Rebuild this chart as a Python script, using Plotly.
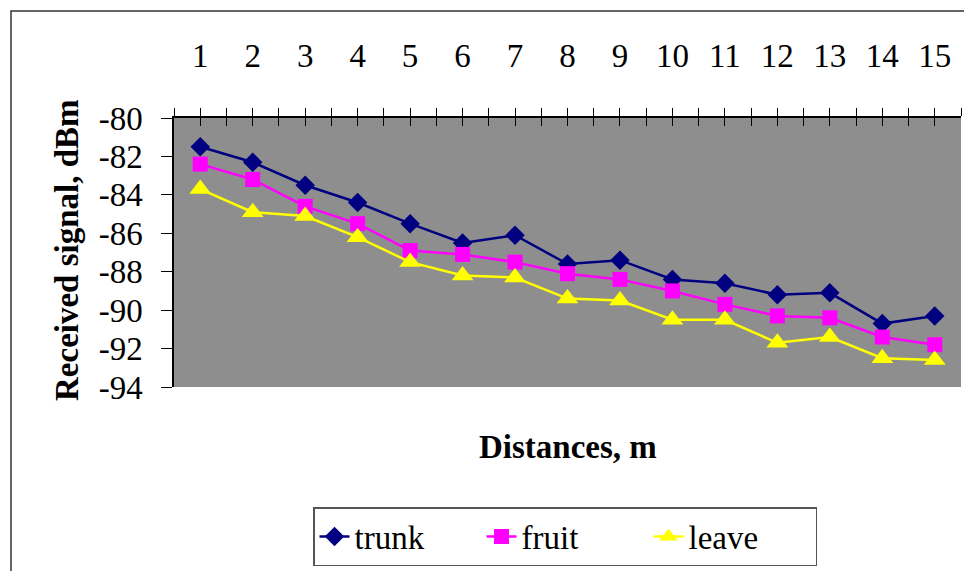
import plotly.graph_objects as go

distances = list(range(1, 16))
trunk = [-81.5, -82.3, -83.5, -84.4, -85.5, -86.5, -86.1, -87.6, -87.4, -88.4, -88.6, -89.2, -89.1, -90.7, -90.3]
fruit = [-82.4, -83.2, -84.6, -85.5, -86.9, -87.1, -87.5, -88.1, -88.4, -89.0, -89.7, -90.3, -90.4, -91.4, -91.8]
leave = [-83.7, -84.9, -85.1, -86.2, -87.5, -88.2, -88.3, -89.4, -89.5, -90.5, -90.5, -91.7, -91.4, -92.5, -92.6]
y_ticks = [-80, -82, -84, -86, -88, -90, -92, -94]

FONT = "Liberation Serif, Times New Roman, serif"
OFF = 8  # page body margin
W, H = 972 - OFF, 571 - OFF
L, R, T, B = 174 - OFF, 11, 118 - OFF, 184
pw, ph = W - L - R, H - T - B

# helpers converting reference screen pixels to paper coordinates
def px_x(p):
    return (p - OFF - L) / pw

def px_y(p):
    return (H - B - (p - OFF)) / ph

fig = go.Figure()
series = [
    ("trunk", trunk, "#000080", "diamond", 15),
    ("fruit", fruit, "#FF00FF", "square", 15),
    ("leave", leave, "#FFFF00", "triangle-up", 19),
]
for name, vals, col, sym, sz in series:
    fig.add_trace(go.Scatter(
        x=distances, y=vals, name=name, mode="lines+markers",
        line=dict(color=col, width=2.5),
        marker=dict(symbol=sym, size=sz, color=col),
    ))

# dummy trace for the overlay axis that carries the inner half of the ticks
fig.add_trace(go.Scatter(x=distances, y=[None] * len(distances), xaxis="x2",
                         showlegend=False, hoverinfo="skip"))

half_vals = []
half_text = []
for d in distances:
    half_vals += [d - 0.5, d]
    half_text += ["", str(d)]
half_vals.append(distances[-1] + 0.5)
half_text.append("")

xr = [distances[0] - 0.5, distances[-1] + 0.5]

fig.update_layout(
    width=W, height=H,
    margin=dict(l=L, r=R, t=T, b=B, autoexpand=False),
    paper_bgcolor="white",
    plot_bgcolor="#8E8E8E",
    font=dict(family=FONT, size=33, color="black"),
    xaxis=dict(
        range=xr, side="top", tickmode="array", tickvals=half_vals, ticktext=half_text,
        ticks="outside", ticklen=8, tickwidth=1, tickcolor="black",
        showline=True, linecolor="black", linewidth=1.5, automargin=False,
        showgrid=False, zeroline=False, ticklabelstandoff=28,
        tickfont=dict(family=FONT, size=33),
    ),
    xaxis2=dict(
        range=xr, overlaying="x", side="top", tickmode="array", tickvals=half_vals,
        ticktext=[""] * len(half_vals), automargin=False,
        ticks="inside", ticklen=8, tickwidth=1, tickcolor="black",
        showline=False, showgrid=False, zeroline=False,
    ),
    yaxis=dict(
        range=[-94, -80], tickmode="array", tickvals=y_ticks,
        ticktext=[str(v) for v in y_ticks], automargin=False,
        ticks="outside", ticklen=11, tickwidth=1, tickcolor="black",
        showline=True, linecolor="black", linewidth=1.5,
        showgrid=False, zeroline=False, ticklabelstandoff=12,
        tickfont=dict(family=FONT, size=33),
    ),
    legend=dict(
        orientation="h", x=px_x(565), y=px_y(507), xanchor="center", yanchor="top",
        bgcolor="white", bordercolor="#555555", borderwidth=1.5,
        font=dict(family=FONT, size=33), entrywidth=122, entrywidthmode="pixels",
        tracegroupgap=0,
    ),
    showlegend=True,
    annotations=[
        dict(text="<b>Distances, m</b>", xref="paper", yref="paper",
             x=px_x(568), y=px_y(447), xanchor="center", yanchor="middle",
             showarrow=False, font=dict(family=FONT, size=33)),
        dict(text="<b>Received signal, dBm</b>", xref="paper", yref="paper",
             x=px_x(67), y=px_y(250), xanchor="center", yanchor="middle",
             textangle=-90, showarrow=False, font=dict(family=FONT, size=33)),
    ],
    shapes=[
        dict(type="rect", xref="paper", yref="paper",
             x0=px_x(11), x1=px_x(990), y0=px_y(600), y1=px_y(11),
             line=dict(color="#333333", width=1.5), fillcolor="rgba(0,0,0,0)",
             layer="below"),
    ],
)

fig.write_html("out.html")
